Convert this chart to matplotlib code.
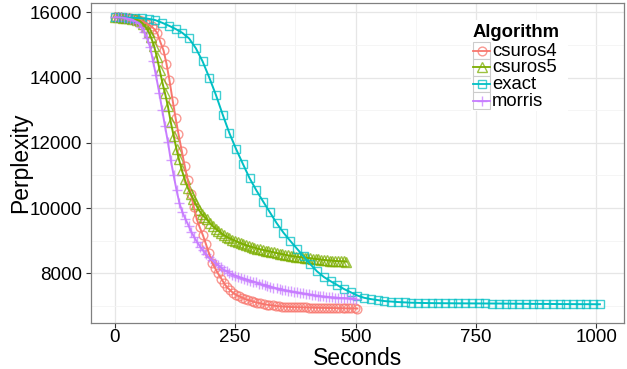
import matplotlib
matplotlib.use('Agg')
import matplotlib.pyplot as plt
from matplotlib.colors import to_rgba
from matplotlib.lines import Line2D
from matplotlib.patches import Rectangle

plt.rcParams['font.family'] = ['Liberation Sans', 'DejaVu Sans']

# perplexity over wall-clock seconds
csuros4_sec = [0, 6, 13, 19, 25, 32, 38, 44, 50, 57,
               63, 69, 76, 82, 88, 94, 101, 107, 113, 120,
               126, 132, 139, 145, 151, 158, 164, 170, 176, 183,
               189, 195, 202, 208, 214, 221, 227, 233, 239, 246,
               252, 258, 265, 271, 277, 284, 290, 296, 302, 309,
               315, 321, 328, 334, 340, 347, 353, 359, 365, 372,
               378, 384, 391, 397, 403, 410, 416, 422, 428, 435,
               441, 447, 454, 460, 466, 473, 479, 485, 491, 498, 504]
csuros4_ppl = [15850, 15845, 15840, 15833, 15825, 15815, 15805, 15790, 15770, 15725,
               15680, 15630, 15565, 15480, 15360, 15100, 14830, 14430, 13940, 13290,
               12760, 12270, 11740, 11290, 10870, 10420, 10020, 9660, 9420, 9160,
               8900, 8630, 8330, 8160, 8000, 7840, 7690, 7570, 7490, 7393,
               7340, 7295, 7250, 7210, 7180, 7150, 7120, 7100, 7080, 7058,
               7040, 7028, 7015, 7002, 6990, 6983, 6978, 6973, 6968, 6964,
               6962, 6960, 6957, 6955, 6952, 6949, 6946, 6944, 6942, 6940,
               6938, 6937, 6935, 6934, 6932, 6930, 6928, 6926, 6925, 6923, 6922]

csuros5_sec = [0, 6, 12, 17, 23, 29, 35, 41, 46, 52,
               58, 64, 70, 75, 81, 87, 93, 99, 104, 110,
               116, 122, 128, 133, 139, 145, 151, 157, 162, 168,
               174, 180, 186, 191, 197, 203, 209, 215, 220, 226,
               232, 238, 244, 249, 255, 261, 267, 273, 278, 284,
               290, 296, 302, 307, 313, 319, 325, 331, 336, 342,
               348, 354, 360, 365, 371, 377, 383, 389, 394, 400,
               406, 412, 418, 423, 429, 435, 441, 447, 452, 458,
               464, 470, 476, 481]
csuros5_ppl = [15855, 15850, 15845, 15840, 15830, 15815, 15800, 15780, 15765, 15730,
               15650, 15540, 15400, 15230, 14980, 14640, 14220, 13820, 13520, 13120,
               12630, 12210, 11800, 11490, 11160, 10880, 10630, 10440, 10290, 10110,
               9950, 9820, 9720, 9650, 9545, 9450, 9370, 9300, 9240, 9170,
               9120, 9075, 9035, 9005, 8962, 8925, 8890, 8860, 8835, 8808,
               8785, 8760, 8735, 8720, 8697, 8680, 8660, 8640, 8622, 8603,
               8585, 8568, 8548, 8535, 8522, 8510, 8498, 8490, 8482, 8472,
               8463, 8452, 8442, 8430, 8420, 8410, 8400, 8392, 8386, 8380,
               8374, 8368, 8364, 8360]

exact_sec = [0, 14, 28, 42, 56, 70, 84, 98, 112, 126,
             140, 154, 168, 182, 196, 210, 224, 238, 252, 266,
             280, 294, 308, 322, 336, 350, 364, 378, 392, 406,
             420, 434, 448, 462, 476, 490, 504, 518, 532, 546,
             560, 574, 588, 602, 616, 630, 644, 658, 672, 686,
             700, 714, 728, 742, 756, 770, 784, 798, 812, 826,
             840, 854, 868, 882, 896, 910, 924, 938, 952, 966,
             980, 994, 1008]
exact_ppl = [15850, 15845, 15838, 15830, 15818, 15800, 15760, 15680, 15590, 15490,
             15370, 15200, 14900, 14500, 14000, 13460, 12860, 12290, 11800, 11350,
             10910, 10540, 10200, 9870, 9540, 9250, 9000, 8760, 8520, 8280,
             8060, 7890, 7760, 7640, 7520, 7420, 7320, 7250, 7210, 7180,
             7150, 7135, 7120, 7110, 7100, 7095, 7090, 7087, 7085, 7083,
             7082, 7080, 7079, 7078, 7077, 7076, 7075, 7074, 7072, 7070,
             7068, 7066, 7064, 7063, 7062, 7060, 7058, 7057, 7056, 7055,
             7054, 7053, 7052]

morris_sec = [0, 6, 12, 18, 24, 31, 37, 43, 49, 55,
              61, 67, 73, 79, 85, 92, 98, 104, 110, 116,
              122, 128, 134, 140, 146, 153, 159, 165, 171, 177,
              183, 189, 195, 201, 207, 214, 220, 226, 232, 238,
              244, 250, 256, 262, 268, 275, 281, 287, 293, 299,
              305, 311, 317, 323, 329, 336, 342, 348, 354, 360,
              366, 372, 378, 384, 390, 397, 403, 409, 415, 421,
              427, 433, 439, 445, 451, 458, 464, 470, 476, 482,
              488, 494, 500]
morris_ppl = [15855, 15850, 15843, 15830, 15815, 15795, 15770, 15720, 15660, 15560,
              15390, 15200, 14930, 14520, 14080, 13540, 13020, 12510, 12030, 11470,
              11000, 10550, 10150, 9880, 9680, 9460, 9260, 9100, 8950, 8820,
              8700, 8590, 8490, 8410, 8330, 8250, 8180, 8110, 8060, 8005,
              7960, 7930, 7895, 7860, 7830, 7800, 7775, 7748, 7720, 7685,
              7660, 7635, 7610, 7588, 7565, 7540, 7520, 7500, 7482, 7465,
              7448, 7430, 7415, 7400, 7385, 7370, 7355, 7340, 7325, 7312,
              7300, 7290, 7280, 7272, 7265, 7258, 7250, 7245, 7240, 7235,
              7232, 7228, 7225]

algorithms = ['csuros4', 'csuros5', 'exact', 'morris']
seconds = [csuros4_sec, csuros5_sec, exact_sec, morris_sec]
perplexity = [csuros4_ppl, csuros5_ppl, exact_ppl, morris_ppl]
colors = ['#F8766D', '#7CAE00', '#00BFC4', '#C77CFF']
markers = ['o', '^', 's', '+']
msizes = [6.3, 7.0, 5.8, 7.8]

W, H = 627, 369
fig = plt.figure(figsize=(W / 100, H / 100), dpi=100)
# panel edges in pixels: left 91.3, right 623.7, top 3.3, bottom 322.7
ax = fig.add_axes([91.3 / W, 1 - 322.7 / H, (623.7 - 91.3) / W, (322.7 - 3.3) / H])

for name, xs, ys, col, mk, ms in zip(algorithms, seconds, perplexity,
                                     colors, markers, msizes):
    ax.plot(xs, ys, linestyle='none', marker=mk, markersize=ms,
            markerfacecolor='none', markeredgecolor=to_rgba(col, 0.75),
            markeredgewidth=1.0, zorder=3)
    ax.plot(xs, ys, color=col, linewidth=1.4, zorder=4)

ax.set_xlim(-49.2, 1057.4)
ax.set_ylim(6487, 16276)
ax.set_xticks([0, 250, 500, 750, 1000])
ax.set_xticks([125, 375, 625, 875], minor=True)
ax.set_yticks([8000, 10000, 12000, 14000, 16000])
ax.set_yticks([7000, 9000, 11000, 13000, 15000], minor=True)

ax.grid(which='major', color='#e6e6e6', linewidth=0.9)
ax.grid(which='minor', color='#f4f4f4', linewidth=0.6)
ax.set_axisbelow(True)
for sp in ax.spines.values():
    sp.set_color('#808080')
    sp.set_linewidth(0.9)

ax.tick_params(which='major', length=3.3, width=0.8, color='#333333',
               labelsize=13.5, labelcolor='black')
ax.tick_params(axis='x', which='major', pad=1.0)
ax.tick_params(axis='y', which='major', pad=3.4)
ax.tick_params(which='minor', length=0)

ax.set_xlabel('Seconds', fontsize=16.5)
ax.xaxis.label.set_va('baseline')
ax.xaxis.set_label_coords(0.5, -(365 - 322.7) / (322.7 - 3.3))
ax.set_ylabel('Perplexity', fontsize=16.5)
ax.yaxis.set_label_coords(-(91.3 - 31.7) / (623.7 - 91.3), 0.5)


# legend drawn in figure pixels, ggplot style with key boxes
def fx(px):
    return px / W


def fy(py):
    return 1 - py / H


fig.add_artist(Rectangle((fx(471.5), fy(110.5)), 96 / W, 91 / H,
                         transform=fig.transFigure, facecolor='white',
                         edgecolor='none', zorder=5))
fig.text(fx(473), fy(37.3), 'Algorithm', fontsize=13.3, fontweight='bold',
         va='baseline', ha='left', zorder=6)
key = 16.7
for i, (name, col, mk, ms) in enumerate(zip(algorithms, colors, markers, msizes)):
    cy = 50.7 + i * key
    fig.add_artist(Rectangle((fx(473.3), fy(cy + key / 2)), key / W, key / H,
                             transform=fig.transFigure, facecolor='white',
                             edgecolor='#cccccc', linewidth=0.8, zorder=6))
    fig.add_artist(Line2D([fx(473.3), fx(473.3 + key)], [fy(cy), fy(cy)],
                          transform=fig.transFigure, color=col,
                          linewidth=1.3, zorder=7))
    fig.add_artist(Line2D([fx(473.3 + key / 2)], [fy(cy)],
                          transform=fig.transFigure, linestyle='none',
                          marker=mk, markersize=ms, markerfacecolor='none',
                          markeredgecolor=to_rgba(col, 0.75),
                          markeredgewidth=1.0, zorder=7))
    fig.text(fx(492), fy(cy + 4.8), name, fontsize=13.3, va='baseline',
             ha='left', zorder=7)

fig.savefig('out.png', dpi=100)
